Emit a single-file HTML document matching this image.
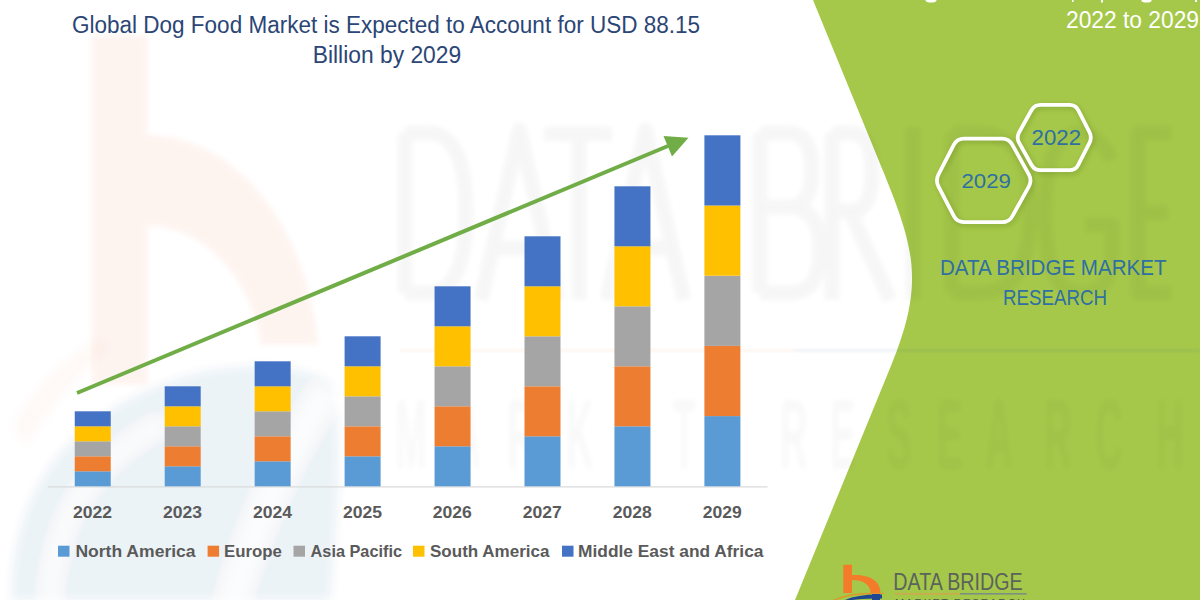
<!DOCTYPE html>
<html><head><meta charset="utf-8">
<style>
html,body{margin:0;padding:0;width:1200px;height:600px;overflow:hidden;background:#fff;}
svg{position:absolute;left:0;top:0;display:block;}
text{font-family:"Liberation Sans",sans-serif;}
</style></head>
<body>
<svg width="1200" height="600" viewBox="0 0 1200 600">
<defs>
  <filter id="blur2" x="-10%" y="-10%" width="120%" height="120%"><feGaussianBlur stdDeviation="1.8"/></filter>
  <filter id="blur3" x="-10%" y="-10%" width="120%" height="120%"><feGaussianBlur stdDeviation="2.8"/></filter>
  <filter id="blur4" x="-20%" y="-20%" width="140%" height="140%"><feGaussianBlur stdDeviation="4"/></filter>
  <filter id="blur6" x="-30%" y="-30%" width="160%" height="160%"><feGaussianBlur stdDeviation="6"/></filter>
  <filter id="blur10" x="-30%" y="-30%" width="160%" height="160%"><feGaussianBlur stdDeviation="10"/></filter>
  <filter id="hexsh" x="-20%" y="-20%" width="140%" height="140%"><feGaussianBlur stdDeviation="2.5"/></filter>
</defs>

<!-- green panel -->
<path d="M813 0 L877.94 158.39 C913.13 244.22 926.75 278.65 891.14 365.52 L795 600 L1200 600 L1200 0 Z" fill="#A5C84A"/>

<!-- watermark (faint) -->
<g id="wm">
  <!-- orange b -->
  <g filter="url(#blur3)" opacity="0.065" fill="#F06A30">
    <path d="M91.7 35 L147.7 35 L147.7 135 A172 240 0 0 1 318.3 345 L261.3 345 A116 149 0 0 0 147.7 226 L147.7 385 L91.7 385 Z"/>
  </g>
  <g filter="url(#blur6)" opacity="0.045" fill="#F06A30">
    <path d="M14 425 Q45 372 100 338 L108 348 Q58 390 26 445 Z"/>
  </g>
  <!-- blue ring -->
  <g filter="url(#blur4)">
    <path fill="#1F4E9A" opacity="0.075" d="M12 600 C10 500 60 410 200 372 C260 360 315 368 332 385 C345 440 335 540 330 600 Z"/>
    <path fill="none" stroke="#fff" stroke-width="13" opacity="0.65" d="M50 600 C54 525 85 465 160 425"/>
    <path fill="none" stroke="#fff" stroke-width="24" opacity="0.75" d="M232 604 C252 530 285 455 326 392"/>
  </g>
  <!-- orange/blue line -->
  <g filter="url(#blur2)" opacity="0.08">
    <rect x="400" y="349" width="395" height="3" fill="#F47B20"/>
    <rect x="795" y="349" width="405" height="3" fill="#1F4E9A"/>
  </g>
  <!-- DATA BRIDGE big letters -->
  <g filter="url(#blur3)" opacity="0.03" fill="none" stroke="#000" stroke-width="15" stroke-linejoin="round">
    <path d="M405 133 L405 293 M405 133 L428 133 Q466 133 466 213 Q466 293 428 293 L405 293"/>
    <path d="M481 300 L519.5 130 L558 300 M494 248 L545 248"/>
    <path d="M544 134 L612 134 M579 134 L579 300"/>
    <path d="M607 300 L645.5 130 L684 300 M620 248 L671 248"/>
    <path d="M760 133 L760 293 M760 133 L788 133 Q812 133 812 170 Q812 207 788 207 L760 207 M788 207 Q820 207 820 250 Q820 293 790 293 L760 293"/>
    <path d="M832 133 L832 300 M832 133 L852 133 Q872 133 872 172 Q872 211 852 211 L832 211 M850 211 L890 300"/>
    <path d="M913 127 L913 300"/>
    <path d="M952 133 L952 293 M952 133 L980 133 Q1030 133 1030 213 Q1030 293 980 293 L952 293"/>
    <path d="M1112 160 Q1098 133 1080 133 Q1045 133 1045 213 Q1045 293 1080 293 Q1112 293 1112 255 L1112 225 L1085 225"/>
    <path d="M1172 133 L1138 133 L1138 293 L1172 293 M1138 213 L1168 213"/>
  </g>
  <!-- MARKET RESEARCH letters -->
  <g filter="url(#blur3)" opacity="0.024" font-size="100" font-weight="bold" fill="#000" text-anchor="middle">
<text transform="translate(411 469) scale(0.38 1)" x="0" y="0">M</text>
<text transform="translate(467 469) scale(0.38 1)" x="0" y="0">A</text>
<text transform="translate(521 469) scale(0.38 1)" x="0" y="0">R</text>
<text transform="translate(580 469) scale(0.38 1)" x="0" y="0">K</text>
<text transform="translate(632 469) scale(0.38 1)" x="0" y="0">E</text>
<text transform="translate(684 469) scale(0.38 1)" x="0" y="0">T</text>
<text transform="translate(794 469) scale(0.38 1)" x="0" y="0">R</text>
<text transform="translate(843 469) scale(0.38 1)" x="0" y="0">E</text>
<text transform="translate(899 469) scale(0.38 1)" x="0" y="0">S</text>
<text transform="translate(950 469) scale(0.38 1)" x="0" y="0">E</text>
<text transform="translate(999 469) scale(0.38 1)" x="0" y="0">A</text>
<text transform="translate(1058 469) scale(0.38 1)" x="0" y="0">R</text>
<text transform="translate(1109 469) scale(0.38 1)" x="0" y="0">C</text>
<text transform="translate(1170 469) scale(0.38 1)" x="0" y="0">H</text>
  </g>
</g>

<!-- axis line -->
<rect x="48" y="486.3" width="719.5" height="1.2" fill="#D9D9D9"/>

<!-- bars -->
<g id="bars">
<rect x="74.75" y="471.30" width="36" height="15" fill="#5B9BD5"/>
<rect x="74.75" y="456.30" width="36" height="15" fill="#ED7D31"/>
<rect x="74.75" y="441.30" width="36" height="15" fill="#A5A5A5"/>
<rect x="74.75" y="426.30" width="36" height="15" fill="#FFC000"/>
<rect x="74.75" y="411.30" width="36" height="15" fill="#4472C4"/>
<rect x="164.70" y="466.30" width="36" height="20" fill="#5B9BD5"/>
<rect x="164.70" y="446.30" width="36" height="20" fill="#ED7D31"/>
<rect x="164.70" y="426.30" width="36" height="20" fill="#A5A5A5"/>
<rect x="164.70" y="406.30" width="36" height="20" fill="#FFC000"/>
<rect x="164.70" y="386.30" width="36" height="20" fill="#4472C4"/>
<rect x="254.65" y="461.30" width="36" height="25" fill="#5B9BD5"/>
<rect x="254.65" y="436.30" width="36" height="25" fill="#ED7D31"/>
<rect x="254.65" y="411.30" width="36" height="25" fill="#A5A5A5"/>
<rect x="254.65" y="386.30" width="36" height="25" fill="#FFC000"/>
<rect x="254.65" y="361.30" width="36" height="25" fill="#4472C4"/>
<rect x="344.60" y="456.30" width="36" height="30" fill="#5B9BD5"/>
<rect x="344.60" y="426.30" width="36" height="30" fill="#ED7D31"/>
<rect x="344.60" y="396.30" width="36" height="30" fill="#A5A5A5"/>
<rect x="344.60" y="366.30" width="36" height="30" fill="#FFC000"/>
<rect x="344.60" y="336.30" width="36" height="30" fill="#4472C4"/>
<rect x="434.55" y="446.30" width="36" height="40" fill="#5B9BD5"/>
<rect x="434.55" y="406.30" width="36" height="40" fill="#ED7D31"/>
<rect x="434.55" y="366.30" width="36" height="40" fill="#A5A5A5"/>
<rect x="434.55" y="326.30" width="36" height="40" fill="#FFC000"/>
<rect x="434.55" y="286.30" width="36" height="40" fill="#4472C4"/>
<rect x="524.50" y="436.30" width="36" height="50" fill="#5B9BD5"/>
<rect x="524.50" y="386.30" width="36" height="50" fill="#ED7D31"/>
<rect x="524.50" y="336.30" width="36" height="50" fill="#A5A5A5"/>
<rect x="524.50" y="286.30" width="36" height="50" fill="#FFC000"/>
<rect x="524.50" y="236.30" width="36" height="50" fill="#4472C4"/>
<rect x="614.45" y="426.30" width="36" height="60" fill="#5B9BD5"/>
<rect x="614.45" y="366.30" width="36" height="60" fill="#ED7D31"/>
<rect x="614.45" y="306.30" width="36" height="60" fill="#A5A5A5"/>
<rect x="614.45" y="246.30" width="36" height="60" fill="#FFC000"/>
<rect x="614.45" y="186.30" width="36" height="60" fill="#4472C4"/>
<rect x="704.40" y="416.10" width="36" height="70.2" fill="#5B9BD5"/>
<rect x="704.40" y="345.90" width="36" height="70.2" fill="#ED7D31"/>
<rect x="704.40" y="275.70" width="36" height="70.2" fill="#A5A5A5"/>
<rect x="704.40" y="205.50" width="36" height="70.2" fill="#FFC000"/>
<rect x="704.40" y="135.30" width="36" height="70.2" fill="#4472C4"/>
</g>

<!-- arrow -->
<line x1="77" y1="393" x2="668" y2="146" stroke="#70AD47" stroke-width="4"/>
<polygon points="688.5,137.8 663.5,136 672,156.5" fill="#70AD47"/>

<!-- title -->
<text x="72" y="32.7" font-size="23" fill="#2B4676" textLength="628" lengthAdjust="spacingAndGlyphs">Global Dog Food Market is Expected to Account for USD 88.15</text>
<text x="312.7" y="62.7" font-size="23" fill="#2B4676" textLength="148.5" lengthAdjust="spacingAndGlyphs">Billion by 2029</text>

<!-- year labels -->
<g font-size="17" font-weight="bold" fill="#5A5A5A">
<text x="73.05" y="518.3" textLength="39" lengthAdjust="spacingAndGlyphs">2022</text>
<text x="163.00" y="518.3" textLength="39" lengthAdjust="spacingAndGlyphs">2023</text>
<text x="252.95" y="518.3" textLength="39" lengthAdjust="spacingAndGlyphs">2024</text>
<text x="342.90" y="518.3" textLength="39" lengthAdjust="spacingAndGlyphs">2025</text>
<text x="432.85" y="518.3" textLength="39" lengthAdjust="spacingAndGlyphs">2026</text>
<text x="522.80" y="518.3" textLength="39" lengthAdjust="spacingAndGlyphs">2027</text>
<text x="612.75" y="518.3" textLength="39" lengthAdjust="spacingAndGlyphs">2028</text>
<text x="702.70" y="518.3" textLength="39" lengthAdjust="spacingAndGlyphs">2029</text>
</g>

<!-- legend -->
<g font-size="17" font-weight="bold" fill="#5A5A5A">
  <rect x="58" y="545.7" width="11.5" height="11" fill="#5B9BD5"/>
  <text x="75.4" y="556.6" textLength="120.2" lengthAdjust="spacingAndGlyphs">North America</text>
  <rect x="207.6" y="545.7" width="11.5" height="11" fill="#ED7D31"/>
  <text x="224" y="556.6" textLength="57.8" lengthAdjust="spacingAndGlyphs">Europe</text>
  <rect x="293.5" y="545.7" width="11.5" height="11" fill="#A5A5A5"/>
  <text x="310.6" y="556.6" textLength="91.4" lengthAdjust="spacingAndGlyphs">Asia Pacific</text>
  <rect x="413" y="545.7" width="11.5" height="11" fill="#FFC000"/>
  <text x="430" y="556.6" textLength="119.5" lengthAdjust="spacingAndGlyphs">South America</text>
  <rect x="562" y="545.7" width="11.5" height="11" fill="#4472C4"/>
  <text x="578" y="556.6" textLength="185.5" lengthAdjust="spacingAndGlyphs">Middle East and Africa</text>
</g>

<!-- green panel content -->
<g fill="#fff">
  <ellipse cx="931" cy="0.5" rx="5.5" ry="2"/>
  <rect x="1072" y="0" width="1.6" height="2"/>
  <rect x="1101" y="0" width="2" height="2.5"/>
  <ellipse cx="1146.5" cy="0.5" rx="5" ry="2"/>
  <rect x="1195" y="0" width="2" height="2"/>
</g>
<text x="1066" y="27.5" font-size="23" fill="#fff" textLength="133" lengthAdjust="spacingAndGlyphs">2022 to 2029</text>

<!-- hexagons -->
<g fill="none" stroke-linejoin="round">
  <g filter="url(#hexsh)" opacity="0.25" stroke="#4A6A10" stroke-width="5">
    <path d="M1019.13 142.74 Q1016.20 137.50 1019.13 132.26 L1031.57 110.04 Q1034.50 104.80 1040.50 104.80 L1069.50 104.80 Q1075.50 104.80 1078.23 110.14 L1089.47 132.16 Q1092.20 137.50 1089.47 142.84 L1078.23 164.86 Q1075.50 170.20 1069.50 170.20 L1040.50 170.20 Q1034.50 170.20 1031.57 164.96 Z" transform="translate(1.5 2)"/>
    <path d="M938.53 186.71 Q935.30 180.50 938.53 174.29 L953.77 144.91 Q957.00 138.70 964.00 138.70 L1002.00 138.70 Q1009.00 138.70 1012.40 144.82 L1028.80 174.38 Q1032.20 180.50 1028.80 186.62 L1012.40 216.08 Q1009.00 222.20 1002.00 222.20 L964.00 222.20 Q957.00 222.20 953.77 215.99 Z" transform="translate(1.5 2)"/>
  </g>
  <g stroke="#FFFFFF" stroke-width="3.8">
    <path d="M1019.13 142.74 Q1016.20 137.50 1019.13 132.26 L1031.57 110.04 Q1034.50 104.80 1040.50 104.80 L1069.50 104.80 Q1075.50 104.80 1078.23 110.14 L1089.47 132.16 Q1092.20 137.50 1089.47 142.84 L1078.23 164.86 Q1075.50 170.20 1069.50 170.20 L1040.50 170.20 Q1034.50 170.20 1031.57 164.96 Z"/>
    <path d="M938.53 186.71 Q935.30 180.50 938.53 174.29 L953.77 144.91 Q957.00 138.70 964.00 138.70 L1002.00 138.70 Q1009.00 138.70 1012.40 144.82 L1028.80 174.38 Q1032.20 180.50 1028.80 186.62 L1012.40 216.08 Q1009.00 222.20 1002.00 222.20 L964.00 222.20 Q957.00 222.20 953.77 215.99 Z"/>
  </g>
</g>
<text x="1031.6" y="145.3" font-size="21.5" fill="#2F6FA2" textLength="49.4" lengthAdjust="spacingAndGlyphs">2022</text>
<text x="961.5" y="188" font-size="21" fill="#2F6FA2" textLength="49.5" lengthAdjust="spacingAndGlyphs">2029</text>

<text x="940" y="275.4" font-size="22" fill="#2F6FA2" textLength="226.5" lengthAdjust="spacingAndGlyphs">DATA BRIDGE MARKET</text>
<text x="1003" y="305.2" font-size="22" fill="#2F6FA2" textLength="104" lengthAdjust="spacingAndGlyphs">RESEARCH</text>

<!-- bottom logo -->
<path d="M843.3 564.7 L852 564.7 L852 575 C868 574 880.5 580 880.5 593 L870.5 593 C870.5 586 865 580 852 580 L852 593 L843.3 593 Z" fill="#F47B2A"/>
<path d="M833 600 Q850 591 884 593 L884 594 Q852 593 836 600 Z" fill="#E0952A"/>
<path d="M845 600 Q858 594 882 594.5 L882 598.5 Q862 598 852 600 Z" fill="#1F4690"/>
<rect x="872" y="594" width="8" height="6" fill="#1F4690"/>
<text x="893.3" y="590" font-size="23.5" fill="#5C625C" textLength="129.3" lengthAdjust="spacingAndGlyphs">DATA BRIDGE</text>
<rect x="894.7" y="593" width="65.3" height="1.6" fill="#CDAA4E"/>
<rect x="960" y="593" width="66.7" height="1.6" fill="#7A9080"/>
<text x="895" y="607" font-size="11" fill="#4A5548" textLength="130" lengthAdjust="spacing">MARKET RESEARCH</text>
</svg>
</body></html>
